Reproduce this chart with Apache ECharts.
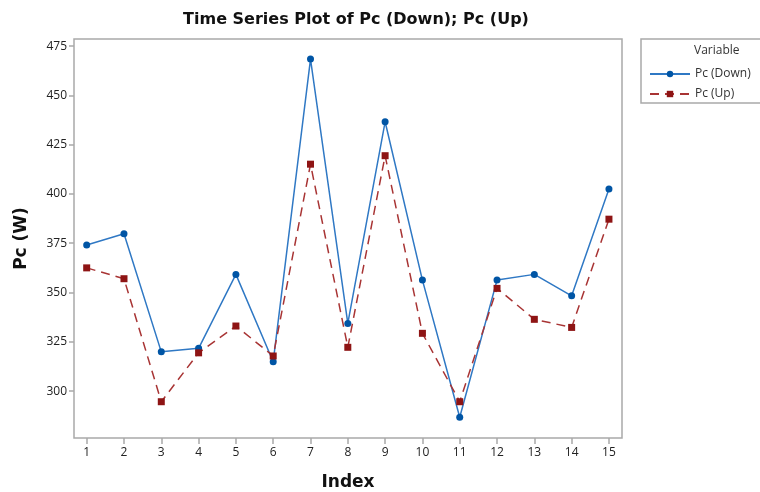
<!DOCTYPE html>
<html>
<head>
<meta charset="utf-8">
<script src="https://cdn.jsdelivr.net/npm/echarts@6/dist/echarts.min.js"></script>
<style>
  html, body { margin: 0; padding: 0; background: #ffffff; }
  #chart { width: 760px; height: 492px; }
</style>
</head>
<body>
<div id="chart"></div>
<script>
// Observation index along the x axis
const indexValues = [1, 2, 3, 4, 5, 6, 7, 8, 9, 10, 11, 12, 13, 14, 15];
// Power readings (W)
const pcDown = [374.1, 379.8, 319.9, 321.7, 359.2, 314.9, 468.4, 334.3, 436.6, 356.3, 286.7, 356.3, 359.2, 348.3, 402.5];
const pcUp   = [362.5, 357.0, 294.6, 319.4, 333.0, 317.8, 415.1, 322.2, 419.4, 329.3, 294.6, 352.1, 336.4, 332.3, 387.2];
// Tick labels
const yTicks = [300, 325, 350, 375, 400, 425, 450, 475];
const xTicks = indexValues;

const seriesNames = ['Pc (Down)', 'Pc (Up)'];
const pairs = (ys) => indexValues.map((x, i) => [x, ys[i]]);

const font = "'Open Sans', 'DejaVu Sans', sans-serif";
const boldFont = "'DejaVu Sans', 'Open Sans', sans-serif";
const chart = echarts.init(document.getElementById('chart'), null, { renderer: 'canvas' });

chart.setOption({
  backgroundColor: '#ffffff',
  animation: false,
  title: {
    text: 'Time Series Plot of Pc (Down); Pc (Up)',
    left: 351, top: 7, textAlign: 'center',
    textStyle: { fontFamily: boldFont, fontWeight: 'bold', fontSize: 16, color: '#111' }
  },
  grid: {
    left: 74, right: 138, top: 39, bottom: 54,
    outerBoundsMode: 'none', containLabel: false,
    show: true, borderColor: '#a9a9a9', borderWidth: 1.5, backgroundColor: '#ffffff'
  },
  xAxis: {
    type: 'value', min: 0.66, max: 15.35,
    name: 'Index', nameLocation: 'middle', nameGap: 36,
    nameTextStyle: { fontFamily: boldFont, fontWeight: 'bold', fontSize: 17, color: '#111' },
    axisLine: { show: false },
    axisTick: { show: true, length: 6, customValues: xTicks, lineStyle: { color: '#a9a9a9', width: 1.5 } },
    axisLabel: { customValues: xTicks, margin: 9, fontFamily: font, fontSize: 12, color: '#222' },
    splitLine: { show: false }
  },
  yAxis: {
    type: 'value', min: 276.2, max: 478.6,
    name: 'Pc (W)', nameLocation: 'middle', nameGap: 44,
    nameTextStyle: { fontFamily: boldFont, fontWeight: 'bold', fontSize: 17, color: '#111' },
    axisLine: { show: false },
    axisTick: { show: true, length: 5, customValues: yTicks, lineStyle: { color: '#a9a9a9', width: 1.5 } },
    axisLabel: { customValues: yTicks, margin: 7, fontFamily: font, fontSize: 12, color: '#222' },
    splitLine: { show: false }
  },
  legend: {
    orient: 'vertical', left: 644, top: 63,
    itemWidth: 40, itemHeight: 8, itemGap: 8,
    textStyle: { fontFamily: font, fontSize: 12, color: '#333' },
    data: seriesNames
  },
  graphic: [
    {
      type: 'rect', shape: { x: 641, y: 39, width: 130, height: 64 },
      style: { fill: 'none', stroke: '#a9a9a9', lineWidth: 1.5 }, silent: true
    },
    {
      type: 'text', left: 694, top: 45,
      style: { text: 'Variable', font: "12px 'Open Sans', 'DejaVu Sans', sans-serif", fill: '#333' }
    }
  ],
  series: [
    {
      name: seriesNames[0], type: 'line', data: pairs(pcDown),
      symbol: 'circle', symbolSize: 7,
      lineStyle: { color: '#2f78c4', width: 1.5 },
      itemStyle: { color: '#0055a5' }
    },
    {
      name: seriesNames[1], type: 'line', data: pairs(pcUp),
      symbol: 'rect', symbolSize: 7,
      lineStyle: { color: '#a83434', width: 1.5, type: [9, 6] },
      itemStyle: { color: '#8e1414' }
    }
  ]
});
</script>
</body>
</html>
